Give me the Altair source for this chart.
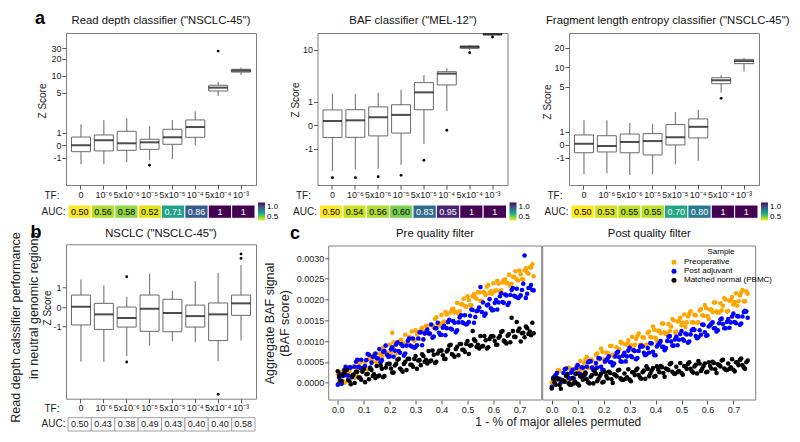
import math
import altair as alt
import pandas as pd

FONT = "Liberation Sans"
FRAME = "#7f7f7f"

TF = ["0", "10⁻⁶", "5x10⁻⁶", "10⁻⁵", "5x10⁻⁵", "10⁻⁴", "5x10⁻⁴", "10⁻³"]

# ---------------- panel a: box statistics (Z score) ----------------
RD_LO = [-1.31, -1.31, -1.19, -1.12, -1.07, 0.0, 4.43, 10.3]
RD_Q1 = [-0.52, -0.46, -0.41, -0.33, 0.08, 0.65, 5.42, 11.6]
RD_MED = [0.0, 0.41, 0.16, 0.24, 0.65, 1.27, 6.2, 12.3]
RD_Q3 = [0.67, 0.84, 1.07, 0.49, 1.16, 1.69, 6.82, 13.0]
RD_HI = [1.42, 1.67, 1.81, 1.31, 1.69, 2.39, 7.8, 13.9]
RD_OUT_TF = ["10⁻⁵", "5x10⁻⁴"]
RD_OUT_Z = [-1.36, 27.0]
RD_AUC = [0.50, 0.56, 0.58, 0.52, 0.71, 0.86, 1.0, 1.0]
RD_AUC_LAB = ["0.50", "0.56", "0.58", "0.52", "0.71", "0.86", "1", "1"]

BAF_LO = [-2.66, -2.45, -2.40, -2.03, -0.78, 0.61, 9.7, 18.0]
BAF_Q1 = [-0.52, -0.51, -0.45, -0.33, 0.66, 2.09, 10.5, 19.0]
BAF_MED = [0.18, 0.21, 0.34, 0.44, 1.51, 3.45, 11.2, 19.6]
BAF_Q3 = [0.65, 0.66, 0.78, 0.87, 2.32, 3.76, 11.7, 20.1]
BAF_HI = [1.42, 1.42, 1.49, 1.70, 3.25, 4.38, 12.2, 20.5]
BAF_OUT_TF = ["0", "10⁻⁶", "5x10⁻⁶", "10⁻⁵", "5x10⁻⁵", "10⁻⁴", "5x10⁻⁴", "10⁻³"]
BAF_OUT_Z = [-3.56, -3.56, -3.42, -3.21, -1.65, -0.21, 8.7, 17.3]
BAF_AUC = [0.50, 0.54, 0.56, 0.60, 0.83, 0.95, 1.0, 1.0]
BAF_AUC_LAB = ["0.50", "0.54", "0.56", "0.60", "0.83", "0.95", "1", "1"]

FL_LO = [-1.81, -1.75, -1.86, -1.81, -1.27, -1.12, 4.03, 8.6]
FL_Q1 = [-0.62, -0.56, -0.62, -0.79, -0.02, 0.52, 5.56, 11.4]
FL_MED = [0.08, -0.10, 0.21, 0.28, 0.57, 1.19, 6.3, 12.5]
FL_Q3 = [0.75, 0.69, 0.82, 0.85, 1.29, 1.58, 6.9, 13.3]
FL_HI = [1.51, 1.51, 1.36, 1.33, 2.02, 2.2, 7.5, 13.8]
FL_OUT_TF = ["5x10⁻⁴"]
FL_OUT_Z = [3.3]
FL_AUC = [0.50, 0.53, 0.55, 0.55, 0.70, 0.80, 1.0, 1.0]
FL_AUC_LAB = ["0.50", "0.53", "0.55", "0.55", "0.70", "0.80", "1", "1"]

# ---------------- panel b ----------------
NB_LO = [-2.83, -2.83, -2.54, -1.99, -1.78, -1.81, -2.81, -1.74]
NB_Q1 = [-0.93, -1.16, -1.04, -1.26, -1.28, -1.04, -1.74, -0.43]
NB_MED = [0.02, -0.38, -0.57, -0.09, -0.31, -0.47, -0.38, 0.19]
NB_Q3 = [0.62, 0.19, 0.0, 0.62, 0.40, 0.10, 0.21, 0.62]
NB_HI = [1.43, 1.12, 0.53, 1.73, 0.85, 1.35, 1.78, 2.18]
NB_OUT_TF = ["5x10⁻⁶", "5x10⁻⁶", "5x10⁻⁴", "10⁻³", "10⁻³"]
NB_OUT_Z = [1.57, -2.85, -4.52, 2.75, 2.52]
NB_AUC = [0.50, 0.43, 0.38, 0.49, 0.43, 0.40, 0.40, 0.58]
NB_AUC_LAB = ["0.50", "0.43", "0.38", "0.49", "0.43", "0.40", "0.40", "0.58"]

# ---------------- panel c: BAF score (units of 1e-4) ----------------
X = [0.00, 0.01, 0.02, 0.03, 0.04, 0.05, 0.06, 0.07, 0.08, 0.09, 0.10, 0.11, 0.12, 0.13, 0.14,
     0.15, 0.16, 0.17, 0.18, 0.19, 0.20, 0.21, 0.22, 0.23, 0.24, 0.25, 0.26, 0.27, 0.28, 0.29,
     0.30, 0.31, 0.32, 0.33, 0.34, 0.35, 0.36, 0.37, 0.38, 0.39, 0.40, 0.41, 0.42, 0.43, 0.44,
     0.45, 0.46, 0.47, 0.48, 0.49, 0.50, 0.51, 0.52, 0.53, 0.54, 0.55, 0.56, 0.57, 0.58, 0.59,
     0.60, 0.61, 0.62, 0.63, 0.64, 0.65, 0.66, 0.67, 0.68, 0.69, 0.70, 0.71, 0.72, 0.73, 0.74, 0.75]
X_B = [0.005, 0.015, 0.025, 0.035, 0.045, 0.055, 0.065, 0.075, 0.085, 0.095, 0.105, 0.115, 0.125,
       0.135, 0.145, 0.155, 0.165, 0.175, 0.185, 0.195, 0.205, 0.215, 0.225, 0.235, 0.245, 0.255,
       0.265, 0.275, 0.285, 0.295, 0.305, 0.315, 0.325, 0.335, 0.345, 0.355, 0.365, 0.375, 0.385,
       0.395, 0.405, 0.415, 0.425, 0.435, 0.445, 0.455, 0.465, 0.475, 0.485, 0.495, 0.505, 0.515,
       0.525, 0.535, 0.545, 0.555, 0.565, 0.575, 0.585, 0.595, 0.605, 0.615, 0.625, 0.635, 0.645,
       0.655, 0.665, 0.675, 0.685, 0.695, 0.705, 0.715, 0.725, 0.735, 0.745, 0.755]

PRE_ORANGE = [2.1, 0.3, 1.8, 0.2, 2.6, 1.7, 3.9, 1.8, 3.4, 3.0, 5.2, 3.3, 5.6, 5.3, 6.8,
              4.9, 7.0, 6.3, 8.7, 7.2, 9.1, 12.0, 9.0, 7.6, 10.1, 9.3, 11.5, 9.3, 10.9, 10.4,
              12.6, 10.6, 12.7, 12.4, 13.7, 11.7, 13.9, 13.3, 15.7, 14.3, 16.3, 14.7, 16.4, 15.0, 17.6,
              16.9, 19.2, 17.2, 18.8, 18.5, 20.8, 18.7, 20.8, 20.5, 21.8, 19.7, 21.8, 21.1, 23.5, 22.0,
              23.9, 22.2, 23.8, 22.2, 24.7, 23.9, 26.0, 23.8, 25.4, 24.9, 27.0, 24.9, 27.0, 26.5, 27.8, 28.5]
PRE_ORANGE_B = [0.2, 2.6, -0.1, 2.1, 2.8, 1.8, 1.2, 3.5, 4.8, 2.7, 4.3, 3.2, 6.1, 5.0, 6.7,
                4.8, 6.9, 8.3, 6.8, 6.6, 7.2, 9.7, 7.1, 9.5, 10.3, 9.4, 8.8, 11.0, 12.3, 10.1,
                11.7, 10.5, 13.2, 12.1, 13.6, 11.6, 13.8, 15.3, 13.8, 13.7, 14.4, 17.0, 14.5, 16.9, 17.8,
                17.0, 16.5, 18.9, 20.2, 18.2, 19.9, 18.6, 21.3, 20.2, 21.7, 19.6, 21.7, 23.1, 21.6, 21.4,
                22.0, 24.5, 21.9, 24.1, 24.9, 24.0, 23.3, 25.5, 26.8, 24.6, 26.1, 24.8, 27.5, 26.2, 27.7, 25.6]
PRE_BLUE = [-0.5, 2.0, 1.6, 3.8, 1.7, 3.6, 1.9, 5.0, 3.8, 5.5, 3.6, 5.4, 6.7, 4.8, 6.3,
            5.9, 8.1, 5.4, 7.6, 6.7, 6.3, 8.5, 7.7, 9.7, 7.2, 8.8, 7.0, 10.1, 8.9, 10.6,
            8.6, 10.6, 12.1, 10.4, 12.1, 11.9, 14.0, 11.1, 13.1, 12.0, 11.5, 13.7, 13.1, 15.1, 12.8,
            14.4, 12.6, 15.7, 14.5, 16.2, 14.2, 16.1, 17.5, 15.8, 17.4, 23.0, 19.3, 16.6, 18.8, 17.9,
            17.5, 19.9, 19.3, 21.5, 19.2, 21.0, 19.2, 22.3, 20.9, 22.6, 20.6, 22.3, 30.6, 21.4, 22.8, 22.3]
PRE_BLUE_B = [1.2, -0.3, 3.1, 1.7, 3.7, 1.3, 3.8, 5.5, 3.6, 3.3, 4.0, 6.9, 3.6, 6.2, 7.0,
              5.8, 4.9, 7.4, 8.9, 6.2, 8.0, 6.2, 9.2, 7.6, 9.2, 6.5, 8.9, 10.6, 8.7, 8.4,
              9.0, 12.1, 9.0, 11.8, 12.8, 11.8, 10.8, 13.1, 14.4, 11.5, 13.2, 11.4, 14.6, 13.0, 14.8,
              12.1, 14.5, 16.2, 14.3, 14.0, 14.6, 17.6, 14.4, 17.2, 18.1, 17.0, 16.1, 18.6, 20.1, 17.4,
              19.2, 17.6, 20.8, 19.4, 21.2, 18.7, 21.1, 22.8, 20.7, 20.4, 21.0, 23.8, 20.4, 22.8, 23.5, 22.2]
PRE_BLACK = [2.7, 0.4, 1.9, 2.9, 0.6, -0.4, 1.9, 2.6, 1.2, 0.7, 3.2, 2.0, 0.8, 3.0, 2.0,
             4.0, 1.7, 3.3, 1.6, 4.4, 4.5, 2.4, 4.1, 5.5, 3.4, 2.6, 5.0, 5.7, 4.3, 3.8,
             6.4, 5.3, 4.2, 6.4, 5.5, 7.6, 5.3, 6.7, 5.0, 7.6, 7.7, 5.7, 7.5, 8.9, 6.9,
             6.2, 8.6, 9.3, 7.9, 7.4, 10.0, 8.9, 12.4, 10.0, 9.1, 11.2, 8.8, 10.2, 8.5, 11.1,
             11.1, 9.1, 10.8, 12.2, 10.1, 9.4, 11.7, 15.6, 11.0, 14.6, 13.0, 11.9, 10.9, 13.1, 12.3, 14.4]
PRE_BLACK_B = [1.6, 0.4, 2.3, 3.1, 0.3, 1.5, -0.1, 2.6, 1.2, 2.6, 0.1, 2.1, 3.4, 1.6, 1.1,
               1.5, 4.1, 1.3, 3.6, 4.5, 3.4, 2.4, 4.5, 5.7, 3.1, 4.5, 3.0, 5.7, 4.3, 5.7,
               3.3, 5.4, 6.8, 5.0, 4.6, 5.1, 7.7, 4.7, 7.0, 7.7, 6.6, 5.7, 7.9, 9.1, 6.6,
               8.1, 6.6, 9.3, 7.9, 9.3, 6.9, 9.0, 10.4, 8.6, 8.2, 8.7, 11.2, 8.2, 10.5, 11.2,
               10.0, 9.1, 11.2, 12.4, 9.8, 11.3, 9.7, 12.4, 11.0, 12.4, 9.9, 12.0, 13.5, 11.7, 11.4, 11.9]
POST_ORANGE = [0.0, 1.5, 0.7, 2.8, 0.1, 2.3, 1.8, 3.3, 0.8, 3.3, 2.4, 5.2, 3.3, 5.6, 3.5,
               5.5, 3.7, 6.7, 5.7, 8.2, 5.6, 7.2, 6.5, 8.8, 6.2, 8.5, 8.0, 9.5, 6.8, 9.3,
               8.4, 11.0, 9.1, 11.2, 9.1, 10.9, 9.0, 12.0, 11.0, 13.5, 10.8, 12.5, 11.9, 14.2, 11.7,
               14.1, 13.5, 15.0, 12.3, 14.8, 13.8, 16.4, 14.5, 16.6, 14.5, 16.3, 14.4, 17.4, 16.2, 18.7,
               16.0, 17.6, 17.0, 19.3, 16.8, 19.1, 18.5, 20.0, 17.3, 19.8, 18.8, 21.5, 19.6, 21.7, 19.6, 22.0]
POST_ORANGE_B = [-0.7, 1.5, 3.0, 0.7, 0.2, 0.6, 3.6, 0.4, 3.2, 4.1, 3.0, 2.2, 4.7, 6.2, 3.5,
                 5.4, 3.8, 7.0, 5.6, 7.4, 4.9, 7.2, 8.8, 6.7, 6.3, 6.8, 9.8, 6.6, 9.2, 10.1,
                 9.0, 8.0, 10.5, 11.8, 9.1, 10.8, 9.1, 12.3, 10.9, 12.7, 10.1, 12.5, 14.2, 12.1, 11.8,
                 12.4, 15.3, 12.1, 14.7, 15.6, 14.4, 13.4, 15.9, 17.2, 14.5, 16.2, 14.5, 17.7, 16.1, 17.9,
                 15.3, 17.6, 19.3, 17.2, 16.9, 17.4, 20.3, 17.1, 19.7, 20.6, 19.4, 18.5, 21.0, 22.3, 19.6, 21.4]
POST_BLUE = [-1.0, 1.4, 2.3, 0.9, 0.6, 3.2, 2.1, 0.9, 3.1, 2.1, 4.2, 2.0, 3.6, 2.1, 4.9,
             5.1, 3.0, 4.7, 5.9, 3.8, 3.0, 5.4, 6.3, 4.9, 4.6, 7.2, 6.1, 5.0, 7.2, 6.3,
             8.4, 6.1, 7.6, 5.9, 8.6, 8.7, 6.6, 8.3, 9.5, 7.4, 6.6, 9.1, 10.0, 8.6, 8.3,
             11.0, 9.9, 8.9, 11.1, 10.3, 12.4, 10.1, 11.6, 9.9, 12.6, 12.7, 10.7, 12.6, 14.0, 12.1,
             11.4, 13.8, 14.5, 13.1, 12.6, 15.2, 14.1, 13.1, 15.3, 14.5, 16.6, 14.3, 15.9, 14.2, 17.0, 17.1]
POST_BLUE_B = [1.1, 1.8, 0.9, 0.1, 2.3, 3.4, 1.1, 2.4, 1.0, 3.5, 2.2, 3.7, 1.6, 3.8, 5.2,
               3.6, 3.2, 3.6, 5.8, 3.0, 5.1, 5.8, 4.9, 4.1, 6.3, 7.4, 5.1, 6.5, 5.1, 7.7,
               6.4, 7.8, 5.6, 7.6, 8.9, 7.2, 6.8, 7.2, 9.4, 6.6, 8.7, 9.5, 8.6, 7.8, 10.0,
               11.2, 8.9, 10.4, 9.0, 11.7, 10.4, 11.8, 9.6, 11.6, 12.9, 11.2, 10.9, 11.5, 13.9, 11.3,
               13.5, 14.2, 13.1, 12.3, 14.3, 15.4, 13.1, 14.6, 13.2, 15.9, 14.6, 16.0, 13.9, 15.9, 17.3, 15.6]
POST_BLACK = [-1.4, 0.1, 1.1, -0.6, 0.6, 0.2, 1.9, -0.5, 1.1, 0.2, -0.3, 1.5, 0.7, 2.4, 0.1,
              1.4, -0.2, 2.1, 0.9, 2.1, 0.2, 1.6, 2.6, 0.8, 2.0, 1.5, 3.1, 0.7, 2.2, 1.3,
              0.7, 2.5, 1.8, 3.4, 1.2, 2.5, 0.9, 3.3, 2.2, 3.5, 1.6, 3.1, 4.0, 2.3, 3.4,
              3.0, 4.7, 2.2, 3.8, 2.8, 2.3, 4.0, 3.3, 4.9, 2.7, 3.9, 2.2, 4.6, 3.3, 4.6,
              2.6, 4.0, 5.0, 3.2, 4.4, 3.9, 5.5, 3.1, 4.6, 3.7, 3.1, 4.9, 4.2, 5.8, 3.6, 4.9]
POST_BLACK_B = [0.9, -0.5, 0.8, -1.5, 0.4, 1.6, -0.2, -0.6, -0.2, 2.1, -0.7, 1.4, 1.9, 0.8, -0.2,
                1.8, 2.8, 0.3, 1.6, 0.0, 2.5, 1.0, 2.3, -0.1, 1.8, 2.9, 1.0, 0.6, 0.9, 3.2,
                0.3, 2.4, 3.0, 1.8, 0.9, 2.9, 3.9, 1.5, 2.9, 1.4, 3.9, 2.5, 3.7, 1.4, 3.2,
                4.4, 2.6, 2.1, 2.5, 4.7, 1.9, 3.9, 4.5, 3.3, 2.4, 4.3, 5.2, 2.8, 4.0, 2.5,
                4.9, 3.4, 4.7, 2.3, 4.2, 5.3, 3.4, 3.0, 3.3, 5.6, 2.7, 4.8, 5.4, 4.2, 3.3, 5.3]

SAMPLES = ["Preoperative", "Post adjuvant", "Matched normal (PBMC)"]
SAMPLE_COLORS = ["#FFA500", "#0000FF", "#000000"]
XTICKS = [0.0, 0.1, 0.2, 0.3, 0.4, 0.5, 0.6, 0.7]
YTICKS = [0.0, 0.0005, 0.001, 0.0015, 0.002, 0.0025, 0.003]
XDOM = [-0.035, 0.786]
YDOM = [-0.00042, 0.00329]

BOXW = 19
PW = 190


def pseudo(z, a):
    if abs(z) <= 1:
        return z
    return math.copysign(1 + a * math.log(abs(z)), z)


def t_expr(field, a):
    f = f"datum.{field}"
    return f"abs({f}) <= 1 ? {f} : ({f} > 0 ? 1 : -1) * (1 + {a} * log(abs({f})))"


def label_expr(a):
    v = "datum.value"
    return (f"abs({v}) <= 1.0001 ? toString(round({v})) : "
            f"toString(round(({v} > 0 ? 1 : -1) * exp((abs({v}) - 1) / {a})))")


def text_layer(txt, x, y, **kw):
    return alt.Chart(pd.DataFrame({"t": [txt]})).mark_text(font=FONT, **kw).encode(
        text="t:N", x=alt.value(x), y=alt.value(y))


def title_layer(txt, x, y):
    return text_layer(txt, x, y, fontSize=11.3, baseline="middle", align="center", color="#111111")


def panel(lo, q1, med, q3, hi, out_tf, out_z, auc_vals, auc_labs, title, title_xy, ticks, tdom,
          a=None, colored=True, height=152, zt=(-23, 68), auc_y=(172, 185.3), texts=()):
    stats = pd.DataFrame({"tf": TF, "lo": lo, "q1": q1, "med": med, "q3": q3, "hi": hi})
    outs = pd.DataFrame({"tf": out_tf, "z": out_z})
    fields = ["lo", "q1", "med", "q3", "hi"]
    if a is None:
        calc = {f"t{k}": f"datum.{k}" for k in fields}
        ocalc = {"tz": "datum.z"}
        yextra = dict(values=ticks, labelExpr="toString(round(datum.value))")
    else:
        calc = {f"t{k}": t_expr(k, a) for k in fields}
        ocalc = {"tz": t_expr("z", a)}
        yextra = dict(values=[pseudo(t, a) for t in ticks], labelExpr=label_expr(a))
    yscale = alt.Scale(domain=tdom, nice=False, zero=False)
    yaxis = alt.Axis(title=None, labelFontSize=9, tickSize=4, labelPadding=1, labelOverlap=False,
                     tickCount=20, **yextra)
    xscale = alt.Scale(domain=TF, paddingInner=0.17, paddingOuter=0.24)
    xaxis = alt.Axis(title="TF:", titleX=-7, titleY=10, titleAlign="right", titleBaseline="middle",
                     titleAngle=0, titleFontSize=10, titleFontWeight="normal", labelAngle=0,
                     labelFontSize=9, tickSize=4, labelPadding=1, labelOverlap=False, labelBound=False)
    xs = alt.X("tf:N", sort=TF, scale=xscale, axis=xaxis)
    base = alt.Chart(stats).transform_calculate(**calc)
    whisk = base.mark_rule(color="#808080", strokeWidth=1.2).encode(
        x=xs, y=alt.Y("tlo:Q", scale=yscale, axis=yaxis), y2="thi:Q")
    boxm = base.mark_bar(fill="white", stroke="#6a6a6a", strokeWidth=1).encode(
        x=xs, y=alt.Y("tq1:Q", scale=yscale, axis=yaxis), y2="tq3:Q")
    medl = base.mark_tick(color="black", thickness=2, size=BOXW).encode(
        x=xs, y=alt.Y("tmed:Q", scale=yscale, axis=yaxis))
    outl = alt.Chart(outs).transform_calculate(**ocalc).mark_circle(
        color="black", size=8, opacity=1).encode(x=xs, y=alt.Y("tz:Q", scale=yscale, axis=yaxis))
    box = alt.layer(whisk, boxm, medl, outl)

    adf = pd.DataFrame({"tf": TF, "auc": auc_vals, "lab": auc_labs, "row": ["AUC:"] * len(TF)})
    ax = alt.X("tf:N", sort=TF, axis=None,
               scale=alt.Scale(domain=TF, paddingInner=0, paddingOuter=0, range=[2, 189]))
    ay = alt.Y("row:N", scale=alt.Scale(range=list(auc_y), paddingInner=0, paddingOuter=0),
               axis=alt.Axis(orient="left", title=None, ticks=False, domain=False,
                             labelFontSize=10, labelPadding=1))
    if colored:
        rect = alt.Chart(adf).mark_rect(stroke="white", strokeWidth=1).encode(
            x=ax, y=ay,
            color=alt.Color("auc:Q", scale=alt.Scale(scheme="viridis", reverse=True, domain=[0.5, 1.0]),
                            legend=alt.Legend(title=None, orient="none", legendX=192, legendY=auc_y[0] - 2.5,
                                              gradientLength=18, gradientThickness=7, values=[0.5, 1.0],
                                              format=".1f", labelFontSize=8, labelOffset=2,
                                              direction="vertical", padding=0,
                                              labelOverlap=False, gradientStrokeWidth=0)))
        txt = alt.Chart(adf).mark_text(fontSize=9, font=FONT).encode(
            x=ax, y=ay, text="lab:N",
            color=alt.condition("datum.auc >= 0.65", alt.value("white"), alt.value("black")))
    else:
        rect = alt.Chart(adf).mark_rect(fill="white", stroke="#a0a0a0", strokeWidth=1).encode(x=ax, y=ay)
        txt = alt.Chart(adf).mark_text(fontSize=9, font=FONT, color="#222222").encode(
            x=ax, y=ay, text="lab:N")
    auc = alt.layer(rect, txt)
    zlabel = text_layer("Z Score", zt[0], zt[1], fontSize=10, angle=270, align="center",
                        baseline="middle", color="#222222")
    ttl = title_layer(title, title_xy[0], title_xy[1])
    return alt.layer(box, auc, zlabel, ttl, *texts).resolve_scale(
        x="independent", y="independent").properties(width=PW, height=height)


def scatter_df(sets):
    rows = []
    for name, xs, vals in sets:
        for xv, v in zip(xs, vals):
            rows.append({"x": xv, "v": v, "sample": name})
    return pd.DataFrame(rows)


SW = 213
CH = 155.7
frame_df = pd.DataFrame({"k": [0]})
yscale_c = alt.Scale(domain=YDOM, range=[CH, CH - 154], nice=False, zero=False)
color_c = alt.Scale(domain=SAMPLES, range=SAMPLE_COLORS)


def scatter_leaf(df, x0, xaxis, yaxis, legend, texts=()):
    xs = alt.Scale(domain=XDOM, range=[x0, x0 + SW], nice=False, zero=False)
    pts = alt.Chart(df).transform_calculate(baf="datum.v / 10000").mark_circle(size=21, opacity=1).encode(
        x=alt.X("x:Q", scale=xs, axis=xaxis),
        y=alt.Y("baf:Q", scale=yscale_c, axis=yaxis),
        color=alt.Color("sample:N", scale=color_c, legend=legend))
    frame = alt.Chart(frame_df).mark_rect(fillOpacity=0, stroke=FRAME, strokeWidth=1).encode(
        x=alt.datum(XDOM[0]), x2=alt.datum(XDOM[1]), y=alt.datum(YDOM[0]), y2=alt.datum(YDOM[1]))
    return alt.layer(pts, frame, *texts).properties(
        width=PW, height=CH, view=alt.ViewBackground(stroke="transparent"))


PRE_X0 = 11.2     # pre plot starts 11.2 px right of its grid cell
POST_X0 = -26.3   # post plot starts 26.3 px left of its grid cell

pre_df = scatter_df([
    (SAMPLES[0], X, PRE_ORANGE), (SAMPLES[0], X_B, PRE_ORANGE_B),
    (SAMPLES[1], X, PRE_BLUE), (SAMPLES[1], X_B, PRE_BLUE_B),
    (SAMPLES[2], X, PRE_BLACK), (SAMPLES[2], X_B, PRE_BLACK_B)])
post_df = scatter_df([
    (SAMPLES[0], X, POST_ORANGE), (SAMPLES[0], X_B, POST_ORANGE_B),
    (SAMPLES[1], X, POST_BLUE), (SAMPLES[1], X_B, POST_BLUE_B),
    (SAMPLES[2], X, POST_BLACK), (SAMPLES[2], X_B, POST_BLACK_B)])

CPRE = scatter_leaf(
    pre_df, PRE_X0,
    alt.Axis(orient="bottom", values=XTICKS, tickCount=20, format=".1f", labelFontSize=9, tickSize=4,
             labelPadding=1, labelOverlap=False, title="1 - % of major alleles permuted", titleX=240.2,
             titleY=21, titleBaseline="middle", titleFontSize=12, titleFontWeight="normal"),
    alt.Axis(values=YTICKS, tickCount=20, format=".4f", labelFontSize=9, tickSize=4, labelPadding=1,
             labelOverlap=False, offset=-PRE_X0, title=["Aggregate BAF signal", "(BAF score)"],
             titleFontSize=12.5, titleFontWeight="normal", titlePadding=5),
    None,
    texts=[text_layer("c", -22.5, -10.3, fontSize=18, fontWeight="bold", baseline="middle"),
           title_layer("Pre quality filter", 117.5, -10.3)])

CPOST = scatter_leaf(
    post_df, POST_X0,
    alt.Axis(orient="bottom", values=XTICKS, tickCount=20, format=".1f", labelFontSize=9, tickSize=4,
             labelPadding=1, labelOverlap=False, title=None),
    None,
    alt.Legend(title="Sample", orient="none", legendX=101, legendY=4, titleFontSize=8,
               titleFontWeight="normal", labelFontSize=8, symbolSize=25, symbolType="circle",
               rowPadding=1, titlePadding=2, labelOffset=6, titleAnchor="middle", padding=0,
               symbolStrokeWidth=0),
    texts=[title_layer("Post quality filter", 80.3, -10.3)])

A1 = panel(RD_LO, RD_Q1, RD_MED, RD_Q3, RD_HI, RD_OUT_TF, RD_OUT_Z, RD_AUC, RD_AUC_LAB,
           'Read depth classifier ("NSCLC-45")', (95, -12), [-1, 0, 1, 5, 10, 20, 30], [-3.23, 9.13],
           a=2.02, zt=(-23, 68),
           texts=[text_layer("a", -26, -14, fontSize=18, fontWeight="bold", baseline="middle")])
A2 = panel(BAF_LO, BAF_Q1, BAF_MED, BAF_Q3, BAF_HI, BAF_OUT_TF, BAF_OUT_Z, BAF_AUC, BAF_AUC_LAB,
           'BAF classifier ("MEL-12")', (95.5, -12), [-1, 0, 1, 10], [-2.53, 3.91], a=0.96,
           zt=(-21.7, 67))
A3 = panel(FL_LO, FL_Q1, FL_MED, FL_Q3, FL_HI, FL_OUT_TF, FL_OUT_Z, FL_AUC, FL_AUC_LAB,
           'Fragment length entropy classifier ("NSCLC-45")', (98.7, -12), [-1, 0, 1, 5, 10, 20],
           [-3.1, 8.59], a=2.15, zt=(-20.7, 69))
B = panel(NB_LO, NB_Q1, NB_MED, NB_Q3, NB_HI, NB_OUT_TF, NB_OUT_Z, NB_AUC, NB_AUC_LAB,
          'NSCLC ("NSCLC-45")', (95, -10.3), [-1, 0, 1], [-4.75, 3.25], a=None, colored=False,
          height=154.4, zt=(-18, 63.7), auc_y=(173.4, 186.7),
          texts=[
              text_layer("b", -30, -11, fontSize=18, fontWeight="bold", baseline="middle"),
              text_layer("Read depth calssifier performance", -50, -12, fontSize=12.5, angle=270,
                         align="right", baseline="middle", color="#222222"),
              text_layer("in neutral genomic regions", -32, -12, fontSize=12.5, angle=270,
                         align="right", baseline="middle", color="#222222"),
          ])

chart = alt.concat(
    A1, A2, A3, B, CPRE, CPOST, columns=3, align="each", bounds="flush",
    spacing={"row": 59.3, "column": 61.5}
).resolve_scale(
    color="independent"
).properties(
    padding={"left": 1, "top": 1, "right": 1, "bottom": 1}
).configure(
    font=FONT
).configure_view(
    stroke=FRAME, strokeWidth=1
).configure_axis(
    grid=False, domain=False, tickColor="#555555", labelColor="#222222", titleColor="#222222",
    labelFont=FONT, titleFont=FONT
).configure_legend(
    labelFont=FONT, titleFont=FONT
)

chart.save("out.html", embed_options={"renderer": "svg", "actions": False})
